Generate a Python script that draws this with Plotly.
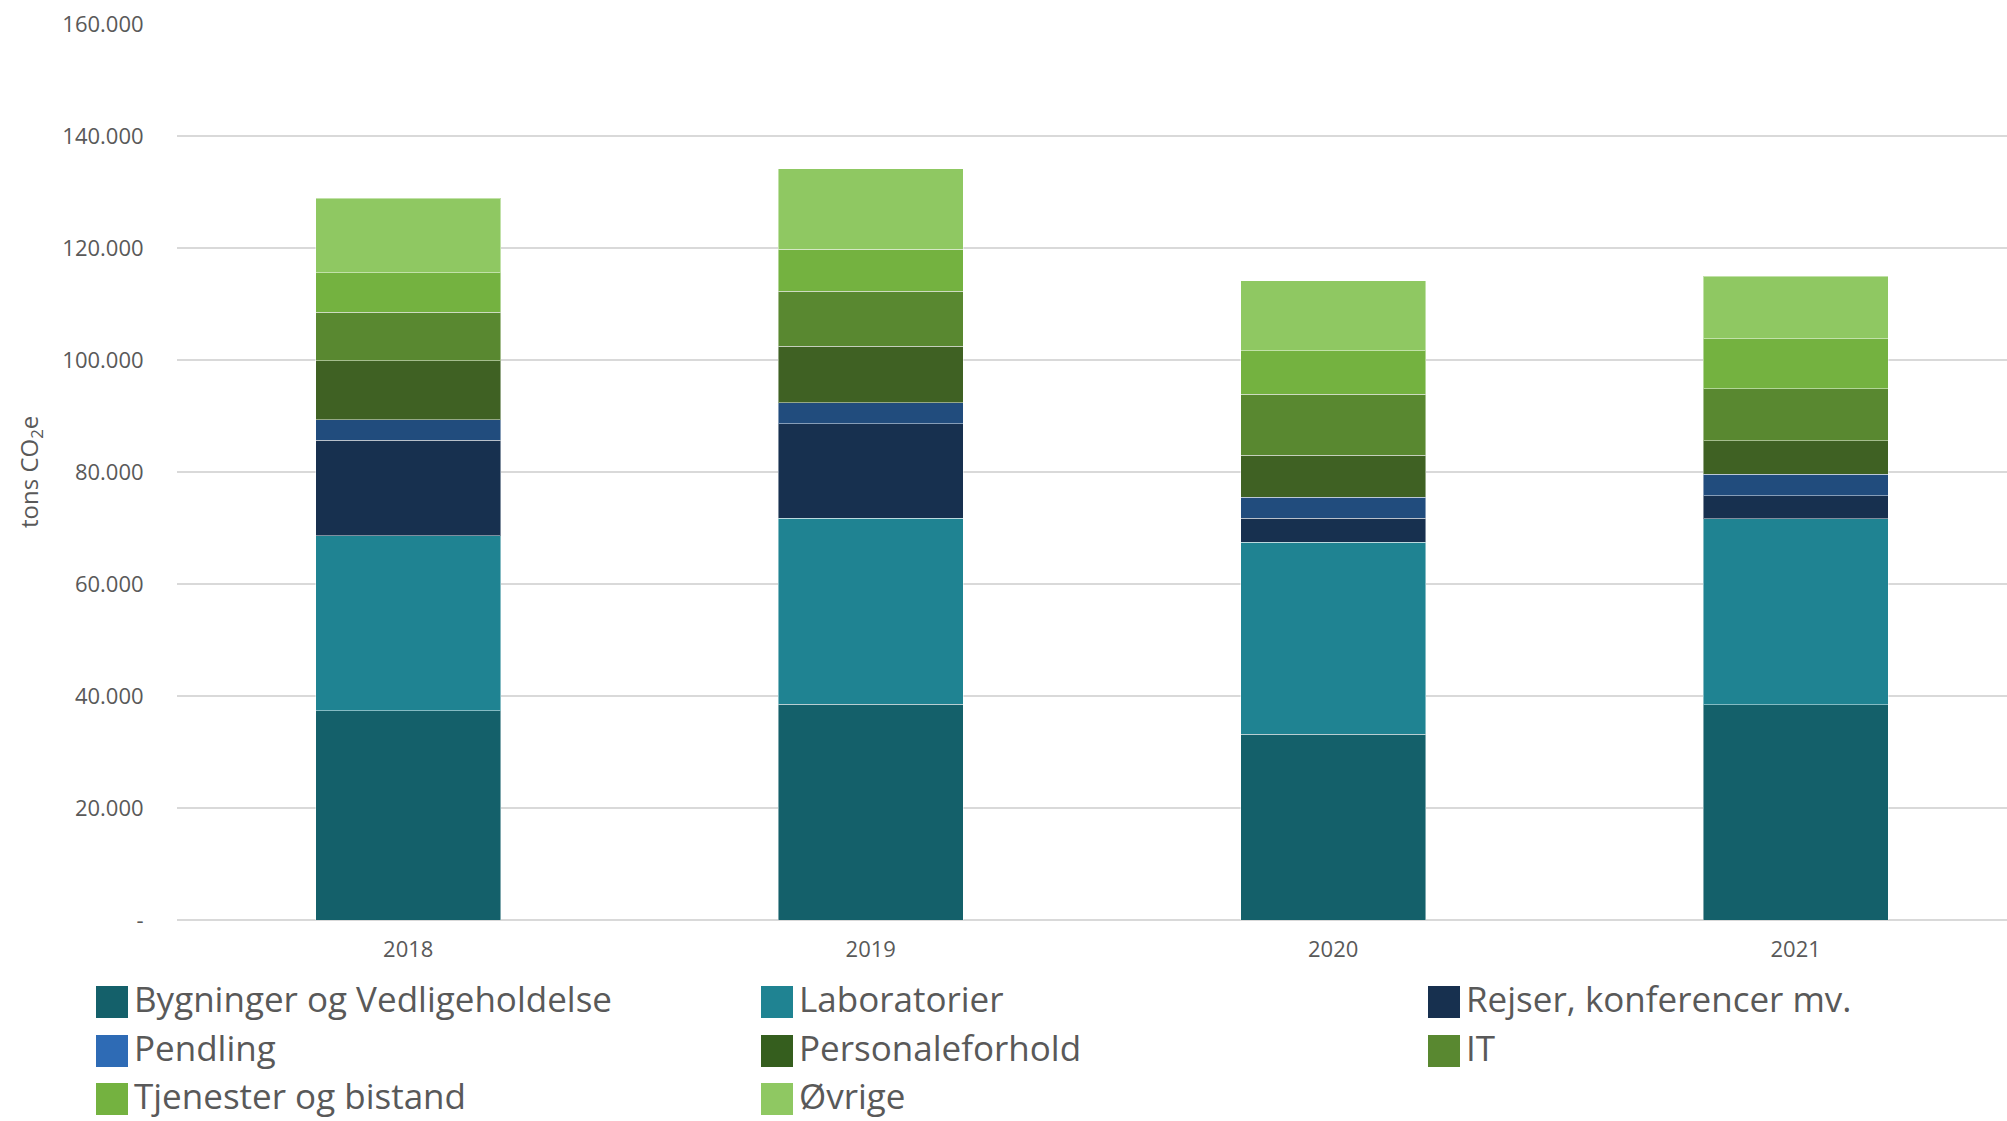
import plotly.graph_objects as go

# Emissions by category, tons CO2e
years = ["2018", "2019", "2020", "2021"]
categories = [
    "Bygninger og Vedligeholdelse",
    "Laboratorier",
    "Rejser, konferencer mv.",
    "Pendling",
    "Personaleforhold",
    "IT",
    "Tjenester og bistand",
    "Øvrige",
]
bygninger = [37400, 38560, 33130, 38400]
laboratorier = [31260, 33150, 34360, 33210]
rejser = [17050, 16940, 4270, 4110]
pendling = [3640, 3690, 3730, 3880]
personale = [10480, 10090, 7520, 5970]
it = [8740, 9820, 10860, 9310]
tjenester = [7010, 7570, 7760, 8920]
oevrige = [13320, 14320, 12490, 11170]
series = [bygninger, laboratorier, rejser, pendling, personale, it, tjenester, oevrige]

bar_colors = ["#14606A", "#1F8392", "#17304F", "#214C7D",
              "#3F6123", "#598830", "#74B240", "#8FC862"]
legend_colors = ["#14606A", "#1F8392", "#17304F", "#2E6BB5",
                 "#355E1E", "#598830", "#74B240", "#8FC862"]

y_ticks = [0, 20000, 40000, 60000, 80000, 100000, 120000, 140000, 160000]
y_ticktext = ["-", "20.000", "40.000", "60.000", "80.000",
              "100.000", "120.000", "140.000", "160.000"]

W, H = 2007, 1121
ML, MR, MT, MB = 177, 0, 24, 201
FONT = "Open Sans"
GREY = "#595959"

fig = go.Figure()
for name, vals, col in zip(categories, series, bar_colors):
    fig.add_trace(go.Bar(
        x=years, y=vals, name=name, marker_color=col,
        marker_line=dict(color="rgba(255,255,255,0.45)", width=1),
        showlegend=False,
    ))

fig.update_layout(
    width=W, height=H,
    margin=dict(l=ML, r=MR, t=MT, b=MB),
    barmode="stack", bargap=0.6,
    plot_bgcolor="white", paper_bgcolor="white",
    font=dict(family=FONT, color=GREY),
)
fig.update_xaxes(
    range=[-0.5, 3.457], showgrid=False, showline=False, zeroline=False,
    ticks="outside", ticklen=10, tickcolor="rgba(0,0,0,0)",
    tickfont=dict(size=22, color=GREY),
)
fig.update_yaxes(
    range=[0, 160000], tickvals=y_ticks, ticktext=y_ticktext,
    showgrid=True, gridcolor="#D9D9D9", gridwidth=1.5,
    zeroline=True, zerolinecolor="#D9D9D9", zerolinewidth=1.5,
    showline=False, ticks="outside", ticklen=28, tickcolor="rgba(0,0,0,0)",
    tickfont=dict(size=22, color=GREY),
)

# y-axis title
fig.add_annotation(
    text="tons CO<sub>2</sub>e", textangle=-90,
    xref="paper", yref="paper", x=(30 - ML) / (W - ML - MR), y=0.5,
    xanchor="center", yanchor="middle", showarrow=False,
    font=dict(family=FONT, size=24, color=GREY),
)

# Legend laid out in three columns below the plot
col_x = [96, 761, 1428]
row_y = [1002, 1051, 1099]
sw = 32
pw, ph = W - ML - MR, H - MT - MB
for i, (name, col) in enumerate(zip(categories, legend_colors)):
    r, c = divmod(i, 3)
    x0 = col_x[c]
    yc = row_y[r]
    fig.add_shape(
        type="rect", xref="paper", yref="paper",
        x0=(x0 - ML) / pw, x1=(x0 + sw - ML) / pw,
        y0=(H - MB - (yc + sw / 2)) / ph, y1=(H - MB - (yc - sw / 2)) / ph,
        fillcolor=col, line=dict(width=0),
    )
    fig.add_annotation(
        text=name, xref="paper", yref="paper",
        x=(x0 + sw + 4 - ML) / pw, y=(H - MB - (yc - 4)) / ph,
        xanchor="left", yanchor="middle", showarrow=False,
        font=dict(family=FONT, size=35, color=GREY),
    )

fig.write_html("out.html")
